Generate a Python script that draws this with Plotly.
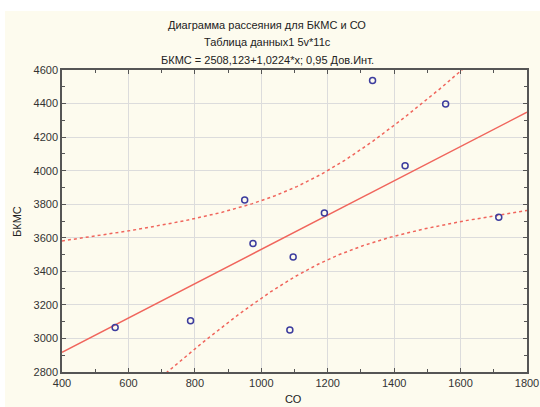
import numpy as np
import plotly.graph_objects as go

# Data
co_values = [560, 787, 950, 975, 1086, 1096, 1190, 1335, 1433, 1555, 1715]
bkms_values = [3065, 3106, 3825, 3566, 3051, 3485, 3747, 4537, 4030, 4398, 3722]

intercept = 2508.123
slope = 1.0224
t_crit = 2.262  # t(0.975, df=9)

title_lines = [
    "Диаграмма рассеяния для БКМС и СО",
    "Таблица данных1 5v*11c",
    "БКМС = 2508,123+1,0224*x; 0,95 Дов.Инт.",
]
x_title = "СО"
y_title = "БКМС"
x_ticks = [400, 600, 800, 1000, 1200, 1400, 1600, 1800]
y_ticks = [2800, 3000, 3200, 3400, 3600, 3800, 4000, 4200, 4400, 4600]

# Fitted line and 95% confidence band for the mean
x = np.array(co_values, float)
y = np.array(bkms_values, float)
n = len(x)
resid = y - (intercept + slope * x)
s = np.sqrt(np.sum(resid ** 2) / (n - 2))
sxx = np.sum((x - x.mean()) ** 2)
xs = np.linspace(x_ticks[0], x_ticks[-1], 300)
fit = intercept + slope * xs
half = t_crit * s * np.sqrt(1.0 / n + (xs - x.mean()) ** 2 / sxx)

RED = "#F0655C"
W, H = 540, 407
L, R, T, B = 62, 13, 70, 35
plot_h = H - T - B
plot_w = W - L - R

fig = go.Figure()
fig.add_trace(go.Scatter(x=xs, y=fit, mode="lines",
                         line=dict(color=RED, width=1.5), hoverinfo="skip"))
fig.add_trace(go.Scatter(x=xs, y=fit + half, mode="lines",
                         line=dict(color=RED, width=1.5, dash="3px,3px"), hoverinfo="skip"))
fig.add_trace(go.Scatter(x=xs, y=fit - half, mode="lines",
                         line=dict(color=RED, width=1.5, dash="3px,3px"), hoverinfo="skip"))
fig.add_trace(go.Scatter(x=co_values, y=bkms_values, mode="markers",
                         marker=dict(symbol="circle-open", size=6,
                                     color="#3C3C9E", line=dict(width=1.5))))

axis_common = dict(
    showline=True, linecolor="#555555", linewidth=1.5, mirror="ticks",
    ticks="inside", ticklen=4, tickcolor="#555555", tickwidth=1,
    showgrid=True, gridcolor="#DCDCDC", gridwidth=1, zeroline=False,
    automargin=False,
    tickfont=dict(family="Liberation Sans, Arial", size=11, color="#333333"),
    minor=dict(ticks="inside", ticklen=3, tickcolor="#555555", showgrid=False),
)

fig.update_xaxes(range=[x_ticks[0], x_ticks[-1]], tickvals=x_ticks, **axis_common)
fig.update_xaxes(minor_dtick=100, minor_tick0=0)
fig.update_yaxes(range=[y_ticks[0], y_ticks[-1]], tickvals=y_ticks, **axis_common)
fig.update_yaxes(minor_dtick=100, minor_tick0=0)

annotations = []
title_px = [25, 42.5, 60]
for line, py in zip(title_lines, title_px):
    annotations.append(dict(
        text=line, xref="paper", yref="paper",
        x=(267 - L) / plot_w, y=(H - B - py) / plot_h,
        xanchor="center", yanchor="middle", showarrow=False,
        font=dict(family="Liberation Sans, Arial", size=11, color="#222222")))
annotations.append(dict(
    text=x_title, xref="paper", yref="paper",
    x=(293 - L) / plot_w, y=(H - B - 399) / plot_h,
    xanchor="center", yanchor="middle", showarrow=False,
    font=dict(family="Liberation Sans, Arial", size=11, color="#222222")))
annotations.append(dict(
    text=y_title, xref="paper", yref="paper", textangle=-90,
    x=(17 - L) / plot_w, y=(H - B - 222) / plot_h,
    xanchor="center", yanchor="middle", showarrow=False,
    font=dict(family="Liberation Sans, Arial", size=11, color="#222222")))

fig.update_layout(
    width=W, height=H, autosize=False,
    margin=dict(l=L, r=R, t=T, b=B, pad=0, autoexpand=False),
    paper_bgcolor="white", plot_bgcolor="white",
    showlegend=False,
    annotations=annotations,
    shapes=[dict(type="rect", xref="paper", yref="paper", layer="below",
                 x0=(5 - L) / plot_w, x1=(W - L) / plot_w,
                 y0=(H - B - H) / plot_h, y1=(H - B - 11) / plot_h,
                 fillcolor="#FDFBEE", line=dict(width=0))],
)

fig.write_html("out.html")
